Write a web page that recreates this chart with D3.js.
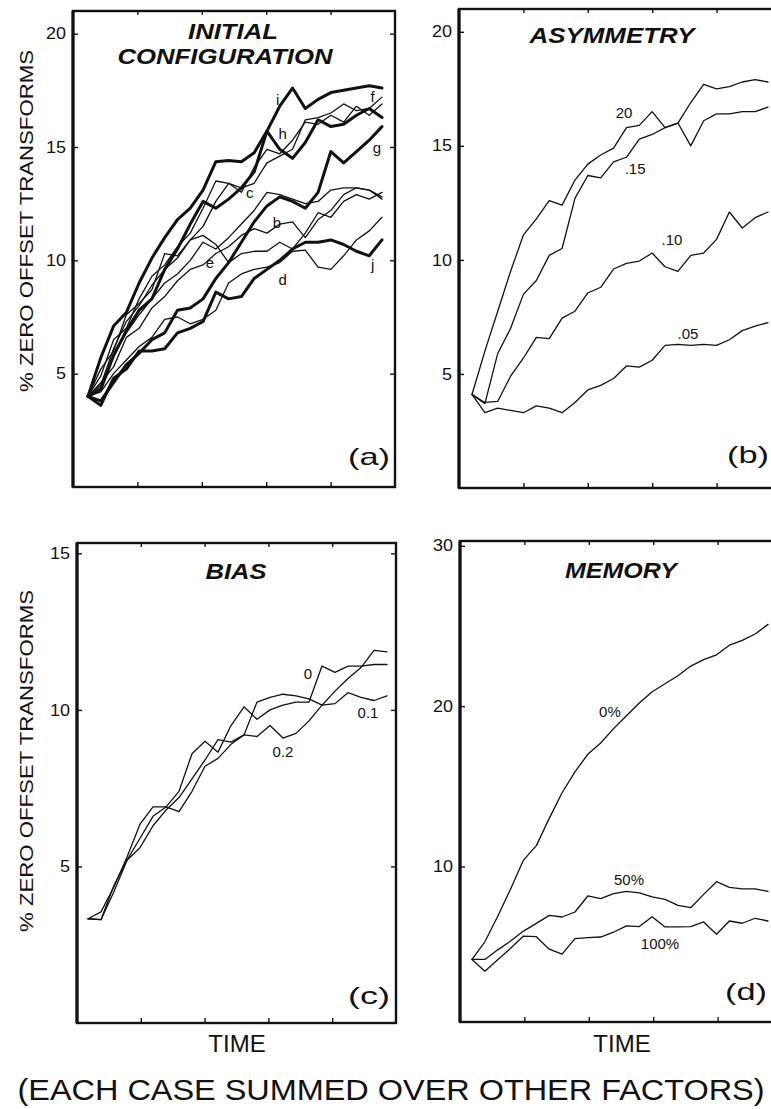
<!DOCTYPE html>
<html>
<head>
<meta charset="utf-8">
<script src="https://cdn.jsdelivr.net/npm/d3@7/dist/d3.min.js"></script>
<style>
  body { margin: 0; background: #fff; }
  svg { display: block; }
</style>
</head>
<body>
<svg id="fig" width="771" height="1109"></svg>
<script>
// ---- data (time steps are just sample indices 0..23) ----
const steps = d3.range(24);

// (a) initial configuration, cases a..j
const confA = [4.0, 5.2, 6.0, 7.6, 8.1, 8.7, 10.3, 10.2, 10.9, 11.5, 12.6, 13.4, 13.0, 14.1, 14.9, 14.7, 15.3, 16.1, 16.0, 16.4, 16.1, 16.8, 16.4, 16.9];
const confB = [4.0, 4.6, 5.3, 6.6, 7.0, 7.9, 8.4, 9.1, 9.6, 9.8, 10.3, 10.6, 11.1, 11.4, 11.2, 11.6, 11.7, 11.0, 11.8, 12.2, 12.9, 13.2, 13.1, 12.7];
const confC = [4.0, 4.4, 5.8, 6.8, 7.6, 8.3, 9.0, 9.4, 10.0, 10.8, 10.5, 11.0, 11.6, 12.2, 13.0, 12.9, 12.7, 12.5, 12.6, 13.1, 13.2, 13.2, 13.1, 12.8];
const confD = [4.0, 4.2, 5.0, 5.6, 6.2, 6.6, 7.4, 7.5, 7.2, 7.4, 7.8, 9.0, 9.4, 9.6, 9.7, 9.9, 10.4, 10.45, 9.7, 9.6, 10.2, 10.9, 11.3, 11.9];
const confE = [4.0, 4.5, 6.1, 7.3, 8.0, 8.9, 9.6, 10.1, 10.9, 11.1, 10.7, 9.9, 10.3, 10.4, 10.4, 10.8, 10.5, 11.2, 12.1, 11.9, 12.6, 12.9, 12.7, 13.0];
const confF = [4.0, 4.9, 6.5, 7.0, 8.3, 9.3, 9.8, 10.6, 11.2, 12.3, 13.5, 13.4, 13.2, 13.4, 14.3, 14.6, 14.9, 16.2, 16.3, 16.5, 16.9, 16.6, 16.7, 17.2];
const confG = [4.0, 3.8, 4.6, 5.4, 5.9, 6.5, 6.8, 7.8, 7.9, 8.3, 9.2, 9.9, 10.8, 11.7, 12.4, 12.8, 12.6, 12.3, 13.0, 14.8, 14.3, 14.8, 15.3, 15.9];
const confH = [4.0, 4.3, 5.8, 6.9, 7.8, 8.3, 9.6, 10.5, 11.6, 12.6, 12.3, 12.7, 13.2, 13.9, 15.7, 14.9, 14.5, 15.2, 16.2, 15.9, 16.0, 16.4, 16.7, 16.3];
const confI = [4.0, 5.7, 7.1, 7.7, 9.0, 10.1, 11.0, 11.8, 12.3, 13.1, 14.35, 14.4, 14.35, 14.75, 15.7, 16.8, 17.6, 16.7, 17.1, 17.4, 17.5, 17.6, 17.7, 17.6];
const confJ = [4.0, 3.6, 4.8, 5.2, 6.0, 6.0, 6.1, 6.8, 7.0, 7.3, 8.6, 8.3, 8.4, 9.2, 9.6, 10.0, 10.5, 10.8, 10.8, 10.9, 10.7, 10.4, 10.2, 10.9];

// (b) asymmetry
const asym20 = [4.1, 6.0, 7.75, 9.5, 11.1, 11.8, 12.6, 12.4, 13.5, 14.2, 14.6, 14.9, 15.8, 15.9, 16.5, 15.8, 16.0, 15.0, 16.1, 16.4, 16.4, 16.5, 16.5, 16.7];
const asym15 = [4.1, 3.7, 5.9, 7.0, 8.5, 9.1, 10.2, 10.5, 12.7, 13.7, 13.6, 14.3, 14.5, 15.3, 15.5, 15.8, 16.0, 16.9, 17.7, 17.5, 17.6, 17.8, 17.9, 17.8];
const asym10 = [4.1, 3.75, 3.8, 4.9, 5.7, 6.6, 6.55, 7.45, 7.75, 8.55, 8.8, 9.6, 9.85, 9.95, 10.3, 9.7, 9.5, 10.2, 10.3, 10.9, 12.1, 11.4, 11.85, 12.1];
const asym05 = [4.1, 3.3, 3.5, 3.4, 3.3, 3.6, 3.5, 3.3, 3.75, 4.3, 4.5, 4.8, 5.35, 5.3, 5.6, 6.25, 6.3, 6.25, 6.3, 6.25, 6.5, 6.9, 7.1, 7.25];

// (c) bias
const bias0  = [3.33, 3.55, 4.35, 5.3, 6.35, 6.9, 6.9, 7.4, 8.6, 9.0, 8.65, 9.5, 10.1, 9.7, 10.0, 10.15, 10.25, 10.25, 11.4, 11.2, 11.4, 11.4, 11.45, 11.45];
const bias01 = [3.33, 3.3, 4.4, 5.2, 5.9, 6.6, 6.9, 6.75, 7.4, 8.2, 8.45, 8.9, 9.2, 10.25, 10.4, 10.5, 10.45, 10.35, 10.15, 10.2, 10.55, 10.4, 10.3, 10.45];
const bias02 = [3.33, 3.3, 4.2, 5.2, 5.6, 6.3, 6.8, 7.2, 7.8, 8.4, 9.05, 8.97, 9.2, 9.15, 9.5, 9.1, 9.25, 9.65, 10.15, 10.6, 11.0, 11.35, 11.9, 11.85];

// (d) memory
const mem0   = [4.2, 5.3, 6.9, 8.6, 10.4, 11.3, 13.0, 14.6, 15.9, 17.0, 17.7, 18.6, 19.4, 20.2, 20.9, 21.4, 21.9, 22.5, 22.9, 23.2, 23.8, 24.1, 24.5, 25.1];
const mem50  = [4.2, 4.2, 4.8, 5.35, 5.97, 6.45, 6.95, 6.85, 7.16, 8.16, 8.0, 8.3, 8.45, 8.35, 8.1, 7.95, 7.57, 7.43, 8.26, 9.05, 8.7, 8.6, 8.6, 8.45];
const mem100 = [4.2, 3.47, 4.18, 4.9, 5.66, 5.62, 4.84, 4.53, 5.5, 5.56, 5.6, 5.9, 6.3, 6.25, 6.87, 6.23, 6.23, 6.25, 6.54, 5.77, 6.6, 6.46, 6.77, 6.6];

// tick labels
const ticksTop = [5, 10, 15, 20];
const ticksBias = [5, 10, 15];
const ticksMem = [10, 20, 30];
const timeTicks = [1, 2, 3, 4];

// ---- layout ----
const FONT = '"Liberation Sans", Arial, Helvetica, sans-serif';
const INK = "#111";
const THICK = 3, THIN = 1.3;

const panels = [
  {
    left: 73, right: 395, top: 11, bottom: 487, x0: 88, x1: 382,
    yDomain: [0, 21], yTicks: ticksTop,
    titles: [{ text: "INITIAL", x: 233, y: 39, len: 90 }, { text: "CONFIGURATION", x: 225, y: 64, len: 215 }],
    tag: { text: "(a)", x: 348, y: 465 },
    series: [
      { v: confA, w: THIN }, { v: confB, w: THIN }, { v: confC, w: THIN }, { v: confD, w: THIN },
      { v: confE, w: THIN }, { v: confF, w: THIN }, { v: confG, w: THICK }, { v: confH, w: THICK },
      { v: confI, w: THICK }, { v: confJ, w: THICK }
    ],
    labels: [
      { text: "i", t: 14.84, v: 17.07 }, { text: "h", t: 15.23, v: 15.6 }, { text: "f", t: 22.27, v: 17.2 },
      { text: "g", t: 22.6, v: 14.95 }, { text: "c", t: 12.66, v: 12.97 }, { text: "b", t: 14.77, v: 11.65 },
      { text: "e", t: 9.53, v: 9.88 }, { text: "d", t: 15.23, v: 9.13 }, { text: "j", t: 22.27, v: 9.79 }
    ]
  },
  {
    left: 459, right: 781, top: 9, bottom: 488, x0: 472, x1: 768,
    yDomain: [0, 21], yTicks: ticksTop,
    titles: [{ text: "ASYMMETRY", x: 612, y: 43, len: 165 }],
    tag: { text: "(b)", x: 727, y: 463 },
    series: [{ v: asym20, w: THIN }, { v: asym15, w: THIN }, { v: asym10, w: THIN }, { v: asym05, w: THIN }],
    labels: [
      { text: "20", t: 11.81, v: 16.44 }, { text: ".15", t: 12.67, v: 13.98 },
      { text: ".10", t: 15.54, v: 10.87 }, { text: ".05", t: 16.78, v: 6.75 }
    ]
  },
  {
    left: 77, right: 396, top: 543, bottom: 1023, x0: 88, x1: 387,
    yDomain: [0, 15.33], yTicks: ticksBias,
    titles: [{ text: "BIAS", x: 236, y: 579, len: 61 }],
    tag: { text: "(c)", x: 348, y: 1004 },
    series: [{ v: bias0, w: THIN }, { v: bias01, w: THIN }, { v: bias02, w: THIN }],
    labels: [
      { text: "0", t: 16.92, v: 11.16 }, { text: "0.1", t: 21.54, v: 9.9 }, { text: "0.2", t: 15.0, v: 8.66 }
    ]
  },
  {
    left: 460, right: 782, top: 541, bottom: 1022, x0: 472, x1: 768,
    yDomain: [0.3, 30.3], yTicks: ticksMem,
    titles: [{ text: "MEMORY", x: 621, y: 578, len: 112 }],
    tag: { text: "(d)", x: 725, y: 1000 },
    series: [{ v: mem0, w: THIN }, { v: mem50, w: THIN }, { v: mem100, w: THIN }],
    labels: [
      { text: "0%", t: 10.72, v: 19.64 }, { text: "50%", t: 12.2, v: 9.16 }, { text: "100%", t: 14.61, v: 5.17 }
    ]
  }
];

const svg = d3.select("#fig").attr("font-family", FONT);

function styleAxis(sel) {
  sel.attr("font-family", FONT).attr("font-size", 16).attr("color", INK);
  sel.select(".domain").remove();
  sel.selectAll(".tick line").attr("stroke-width", 1.4);
  sel.selectAll(".tick text").attr("textLength", d => String(d).length * 10).attr("lengthAdjust", "spacingAndGlyphs");
}

function drawPanel(p) {
  const g = svg.append("g");
  const x = d3.scaleLinear().domain([0, steps.length - 1]).range([p.x0, p.x1]);
  const y = d3.scaleLinear().domain(p.yDomain).range([p.bottom, p.top]);
  const frameX = d3.scaleLinear().domain([0, 5]).range([p.left, p.right]);

  g.append("g").attr("transform", `translate(${p.left},0)`)
    .call(d3.axisLeft(y).tickValues(p.yTicks).tickSize(-5).tickPadding(7).tickFormat(d3.format("d")))
    .call(styleAxis);
  g.append("g").attr("transform", `translate(${p.right},0)`)
    .call(d3.axisRight(y).tickValues(p.yTicks).tickSize(-5).tickFormat(""))
    .call(styleAxis);
  g.append("g").attr("transform", `translate(0,${p.bottom})`)
    .call(d3.axisBottom(frameX).tickValues(timeTicks).tickSize(-5).tickFormat(""))
    .call(styleAxis);
  g.append("g").attr("transform", `translate(0,${p.top})`)
    .call(d3.axisTop(frameX).tickValues(timeTicks).tickSize(-4).tickFormat(""))
    .call(styleAxis);

  g.append("rect")
    .attr("x", p.left).attr("y", p.top)
    .attr("width", p.right - p.left).attr("height", p.bottom - p.top)
    .attr("fill", "none").attr("stroke", INK).attr("stroke-width", 2.4);
  // heavier left spine, as in the print
  g.append("line")
    .attr("x1", p.left).attr("x2", p.left).attr("y1", p.top).attr("y2", p.bottom)
    .attr("stroke", INK).attr("stroke-width", 3.2);

  const line = d3.line().x((d, i) => x(steps[i])).y(d => y(d));
  g.selectAll("path.series")
    .data(p.series)
    .join("path")
    .attr("class", "series")
    .attr("d", d => line(d.v))
    .attr("fill", "none")
    .attr("stroke", INK)
    .attr("stroke-width", d => d.w)
    .attr("stroke-linejoin", "round")
    .attr("stroke-linecap", "round");

  g.selectAll("text.lab")
    .data(p.labels)
    .join("text")
    .attr("class", "lab")
    .attr("x", d => x(d.t))
    .attr("y", d => y(d.v))
    .attr("dy", "0.35em")
    .attr("text-anchor", "middle")
    .attr("font-size", 15)
    .attr("fill", INK)
    .text(d => d.text);

  g.selectAll("text.title")
    .data(p.titles)
    .join("text")
    .attr("class", "title")
    .attr("x", d => d.x)
    .attr("y", d => d.y)
    .attr("text-anchor", "middle")
    .attr("font-size", 22)
    .attr("font-weight", "bold")
    .attr("font-style", "italic")
    .attr("textLength", d => d.len)
    .attr("lengthAdjust", "spacingAndGlyphs")
    .attr("fill", INK)
    .text(d => d.text);

  g.append("text")
    .attr("x", p.tag.x).attr("y", p.tag.y)
    .attr("font-size", 24)
    .attr("textLength", 42)
    .attr("lengthAdjust", "spacingAndGlyphs")
    .attr("fill", INK)
    .text(p.tag.text);
}

panels.forEach(drawPanel);

// y-axis titles
[221, 761].forEach(cy => {
  svg.append("text")
    .attr("transform", `translate(33,${cy}) rotate(-90)`)
    .attr("text-anchor", "middle")
    .attr("font-size", 19)
    .attr("textLength", 342)
    .attr("lengthAdjust", "spacingAndGlyphs")
    .attr("fill", INK)
    .text("% ZERO OFFSET TRANSFORMS");
});

// time labels under the bottom panels
[237, 622].forEach(cx => {
  svg.append("text")
    .attr("x", cx).attr("y", 1052)
    .attr("text-anchor", "middle")
    .attr("font-size", 24)
    .attr("fill", INK)
    .text("TIME");
});

svg.append("text")
  .attr("x", 391).attr("y", 1100)
  .attr("text-anchor", "middle")
  .attr("font-size", 30)
  .attr("textLength", 747)
  .attr("lengthAdjust", "spacingAndGlyphs")
  .attr("fill", INK)
  .text("(EACH CASE SUMMED OVER OTHER FACTORS)");
</script>
</body>
</html>
